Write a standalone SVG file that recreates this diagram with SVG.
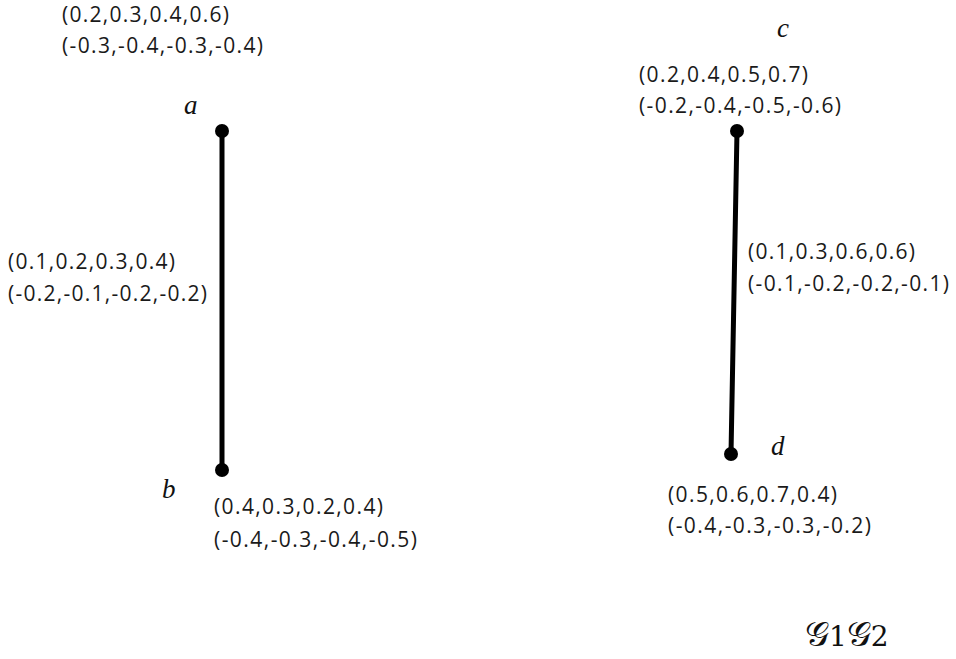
<svg xmlns="http://www.w3.org/2000/svg" width="956" height="659" viewBox="0 0 956 659">
<style>
.t{font-family:"Open Sans","DejaVu Sans",sans-serif;font-size:21px;fill:#1a1a1a}
.v{font-family:"Liberation Serif",serif;font-style:italic;font-size:27px;fill:#111}
.e{stroke:#000;stroke-width:5;stroke-linecap:round}
.n{fill:#000}
.g{font-family:"DejaVu Serif","Liberation Serif",serif;font-size:34px;fill:#111}
</style>
<rect width="956" height="659" fill="#fff"/>
<g id="connectors">
<line class="e" x1="222" y1="131" x2="222" y2="470"/>
<line class="e" x1="737" y1="131" x2="731" y2="454"/>
</g>
<g id="edge-ab-label">
<text class="t" x="8" y="269" textLength="167">(0.1,0.2,0.3,0.4)</text>
<text class="t" x="8" y="301" textLength="199">(-0.2,-0.1,-0.2,-0.2)</text>
</g>
<g id="edge-cd-label">
<text class="t" x="748" y="259" textLength="167">(0.1,0.3,0.6,0.6)</text>
<text class="t" x="748" y="291" textLength="201">(-0.1,-0.2,-0.2,-0.1)</text>
</g>
<g id="node-a">
<circle class="n" cx="222" cy="131" r="7"/>
<text class="v" x="184" y="114">a</text>
<text class="t" x="62" y="22" textLength="167">(0.2,0.3,0.4,0.6)</text>
<text class="t" x="62" y="53" textLength="201">(-0.3,-0.4,-0.3,-0.4)</text>
</g>
<g id="node-b">
<circle class="n" cx="222" cy="470" r="7"/>
<text class="v" x="162" y="498">b</text>
<text class="t" x="214" y="514" textLength="169">(0.4,0.3,0.2,0.4)</text>
<text class="t" x="214" y="547" textLength="203">(-0.4,-0.3,-0.4,-0.5)</text>
</g>
<g id="node-c">
<circle class="n" cx="737" cy="131" r="7"/>
<text class="v" x="777" y="37">c</text>
<text class="t" x="639" y="82" textLength="169">(0.2,0.4,0.5,0.7)</text>
<text class="t" x="639" y="113" textLength="202">(-0.2,-0.4,-0.5,-0.6)</text>
</g>
<g id="node-d">
<circle class="n" cx="731" cy="454" r="7"/>
<text class="v" x="771" y="455">d</text>
<text class="t" x="668" y="502" textLength="169">(0.5,0.6,0.7,0.4)</text>
<text class="t" x="668" y="533" textLength="203">(-0.4,-0.3,-0.3,-0.2)</text>
</g>
<g id="caption">
<text class="g" x="805" y="646">𝒢<tspan font-size="28">1</tspan>𝒢<tspan font-size="28">2</tspan></text>
</g>
</svg>
